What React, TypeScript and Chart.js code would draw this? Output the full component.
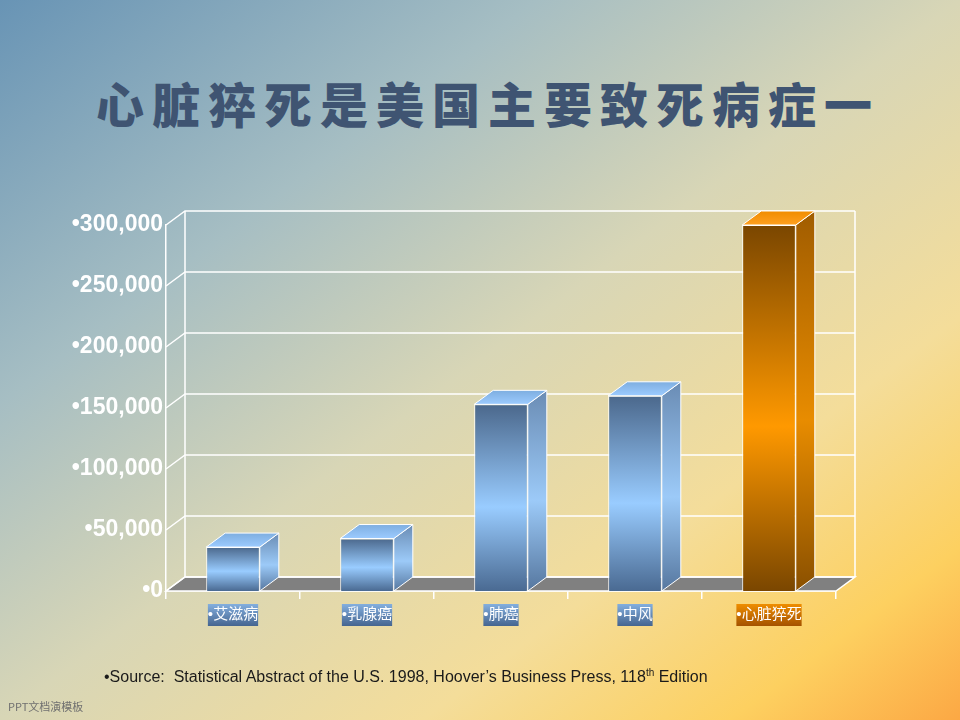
import { useEffect, useRef } from 'react';
import Chart from 'chart.js/auto';

// 数据
const categories = ['•艾滋病', '•乳腺癌', '•肺癌', '•中风', '•心脏猝死'];
const deaths = [36000, 43000, 153000, 160000, 300000];
const yTickValues = [0, 50000, 100000, 150000, 200000, 250000, 300000];
const barTone = ['blue', 'blue', 'blue', 'blue', 'orange'];

// 3D 深度偏移
const DX = 19;
const DY = -14;
const X_AXIS_HEIGHT = 129;

const palette: Record<string, { front: string[]; side: string[]; top: string[]; label: string[] }> = {
  blue: {
    front: ['#4b688c', '#99ccff', '#4a6a92'],
    side: ['#6a8cb4', '#9ccaf8', '#56779f'],
    top: ['#9ccbff', '#7eaee0'],
    label: ['#86b2e2', '#456590'],
  },
  orange: {
    front: ['#7a4600', '#ff9900', '#7a4600'],
    side: ['#a05c00', '#e88c00', '#8a5000'],
    top: ['#ffa020', '#f08c00'],
    label: ['#f29000', '#a45200'],
  },
};

function vGrad(ctx: CanvasRenderingContext2D, top: number, bottom: number, stops: string[]) {
  const g = ctx.createLinearGradient(0, top, 0, bottom);
  if (stops.length === 3) {
    g.addColorStop(0, stops[0]);
    g.addColorStop(0.55, stops[1]);
    g.addColorStop(1, stops[2]);
  } else {
    g.addColorStop(0, stops[0]);
    g.addColorStop(1, stops[1]);
  }
  return g;
}

const wallPlugin = {
  id: 'wall3d',
  beforeDatasetsDraw(chart: any) {
    const { ctx, chartArea, scales } = chart;
    const { left: L, right: R, bottom: B, top: T } = chartArea;
    ctx.save();
    ctx.strokeStyle = '#ffffff';
    ctx.lineWidth = 1.5;

    // 地板
    ctx.fillStyle = '#808080';
    ctx.beginPath();
    ctx.moveTo(L, B);
    ctx.lineTo(R, B);
    ctx.lineTo(R + DX, B + DY);
    ctx.lineTo(L + DX, B + DY);
    ctx.closePath();
    ctx.fill();
    ctx.stroke();

    // 后墙网格线 + 斜线
    scales.y.ticks.forEach((t: any) => {
      const py = scales.y.getPixelForValue(t.value);
      ctx.beginPath();
      ctx.moveTo(L, py);
      ctx.lineTo(L + DX, py + DY);
      ctx.lineTo(R + DX, py + DY);
      ctx.stroke();
    });

    ctx.beginPath();
    ctx.moveTo(L + DX, T + DY);
    ctx.lineTo(L + DX, B + DY);
    ctx.moveTo(R + DX, T + DY);
    ctx.lineTo(R + DX, B + DY);
    ctx.stroke();
    ctx.restore();
  },
  afterDatasetsDraw(chart: any) {
    const { ctx } = chart;
    const meta = chart.getDatasetMeta(0);
    ctx.save();
    ctx.strokeStyle = '#ffffff';
    ctx.lineWidth = 1;
    meta.data.forEach((bar: any, i: number) => {
      const { x, y, base, width } = bar.getProps(['x', 'y', 'base', 'width'], true);
      const l = x - width / 2;
      const r = x + width / 2;
      const p = palette[barTone[i]];

      // 侧面
      ctx.fillStyle = vGrad(ctx, y + DY, base, p.side);
      ctx.beginPath();
      ctx.moveTo(r, y);
      ctx.lineTo(r + DX, y + DY);
      ctx.lineTo(r + DX, base + DY);
      ctx.lineTo(r, base);
      ctx.closePath();
      ctx.fill();
      ctx.stroke();

      // 顶面
      ctx.fillStyle = vGrad(ctx, y, y + DY, p.top);
      ctx.beginPath();
      ctx.moveTo(l, y);
      ctx.lineTo(r, y);
      ctx.lineTo(r + DX, y + DY);
      ctx.lineTo(l + DX, y + DY);
      ctx.closePath();
      ctx.fill();
      ctx.stroke();
    });
    ctx.restore();
  },
};

function DeathChart() {
  const chartRef = useRef<HTMLCanvasElement>(null);
  const chartInstance = useRef<Chart | null>(null);

  useEffect(() => {
    if (!chartRef.current) return;
    if (chartInstance.current) {
      chartInstance.current.destroy();
    }
    const ctx = chartRef.current.getContext('2d');
    if (!ctx) return;

    chartInstance.current = new Chart(ctx, {
      type: 'bar',
      data: {
        labels: categories,
        datasets: [
          {
            data: deaths,
            backgroundColor: (c: any) => {
              const chart = c.chart;
              if (!chart.chartArea) return '#99ccff';
              const ys = chart.scales.y;
              const top = ys.getPixelForValue(deaths[c.dataIndex]);
              const bottom = ys.getPixelForValue(0);
              return vGrad(chart.ctx, top, bottom, palette[barTone[c.dataIndex]].front);
            },
            borderColor: '#ffffff',
            borderWidth: 1,
            categoryPercentage: 1,
            barPercentage: 0.4,
          },
        ],
      },
      options: {
        responsive: true,
        maintainAspectRatio: false,
        animation: false,
        layout: {
          padding: { top: 225, right: 124, bottom: 0, left: 0 },
        },
        plugins: {
          legend: { display: false },
          tooltip: { enabled: false },
        },
        scales: {
          y: {
            min: 0,
            max: 300000,
            afterBuildTicks: (scale: any) => {
              scale.ticks = yTickValues.map(v => ({ value: v }));
            },
            afterFit: (scale: any) => {
              scale.width = 166;
            },
            grid: { display: false, drawTicks: false },
            border: { display: true, color: '#ffffff', width: 1.5 },
            ticks: {
              padding: 3,
              color: '#ffffff',
              font: { family: '"Liberation Sans", Arial, sans-serif', size: 23, weight: 'bold' },
              callback: (v: any) => '•' + Number(v).toLocaleString('en-US'),
            },
          },
          x: {
            afterFit: (scale: any) => {
              scale.height = X_AXIS_HEIGHT;
            },
            grid: {
              display: true,
              drawOnChartArea: false,
              drawTicks: true,
              tickLength: 8,
              color: '#ffffff',
              lineWidth: 1.5,
            },
            border: { display: true, color: '#ffffff', width: 1.5 },
            ticks: {
              padding: 7,
              color: '#ffffff',
              font: { family: '"Liberation Sans", "Noto Sans CJK SC", sans-serif', size: 15 },
              showLabelBackdrop: true,
              backdropPadding: { top: 2, bottom: 2, left: 0, right: 0 },
              // 标签背景在平移后的坐标系中绘制
              backdropColor: (c: any) => {
                const tone = barTone[c.index] || 'blue';
                return vGrad(c.chart.ctx, -3, 20, palette[tone].label);
              },
            },
          },
        },
      },
      plugins: [wallPlugin],
    });

    return () => {
      if (chartInstance.current) {
        chartInstance.current.destroy();
        chartInstance.current = null;
      }
    };
  }, []);

  return <canvas ref={chartRef} />;
}

export default function App() {
  return (
    <div
      style={{
        position: 'absolute',
        left: 0,
        top: 0,
        width: 960,
        height: 720,
        overflow: 'hidden',
        background:
          'linear-gradient(to bottom right, #6894b5 0%, #a6bec3 28%, #d8d6b6 50%, #f4dd9a 72%, #fdd060 88%, #fca844 100%)',
      }}
    >
      <div
        style={{
          position: 'absolute',
          left: 8,
          top: 76,
          width: 960,
          textAlign: 'center',
          fontFamily: '"Noto Sans CJK SC", sans-serif',
          fontWeight: 900,
          fontSize: 48,
          lineHeight: '52px',
          letterSpacing: 8,
          color: '#3f5472',
        }}
      >
        心脏猝死是美国主要致死病症一
      </div>
      <div style={{ position: 'absolute', left: 0, top: 0, width: 960, height: 720 }}>
        <DeathChart />
      </div>
      <div
        style={{
          position: 'absolute',
          left: 104,
          top: 668,
          fontFamily: '"Liberation Sans", Arial, sans-serif',
          fontSize: 16,
          lineHeight: '18px',
          color: '#1a1a1a',
          whiteSpace: 'pre',
        }}
      >
        {'•Source:  Statistical Abstract of the U.S. 1998, Hoover’s Business Press, 118'}
        <sup style={{ fontSize: 10, lineHeight: 0 }}>th</sup>
        {' Edition'}
      </div>
      <div
        style={{
          position: 'absolute',
          left: 8,
          top: 699,
          fontFamily: '"Noto Sans CJK SC", sans-serif',
          fontSize: 11,
          lineHeight: '14px',
          color: '#707070',
        }}
      >
        PPT文档演模板
      </div>
    </div>
  );
}
